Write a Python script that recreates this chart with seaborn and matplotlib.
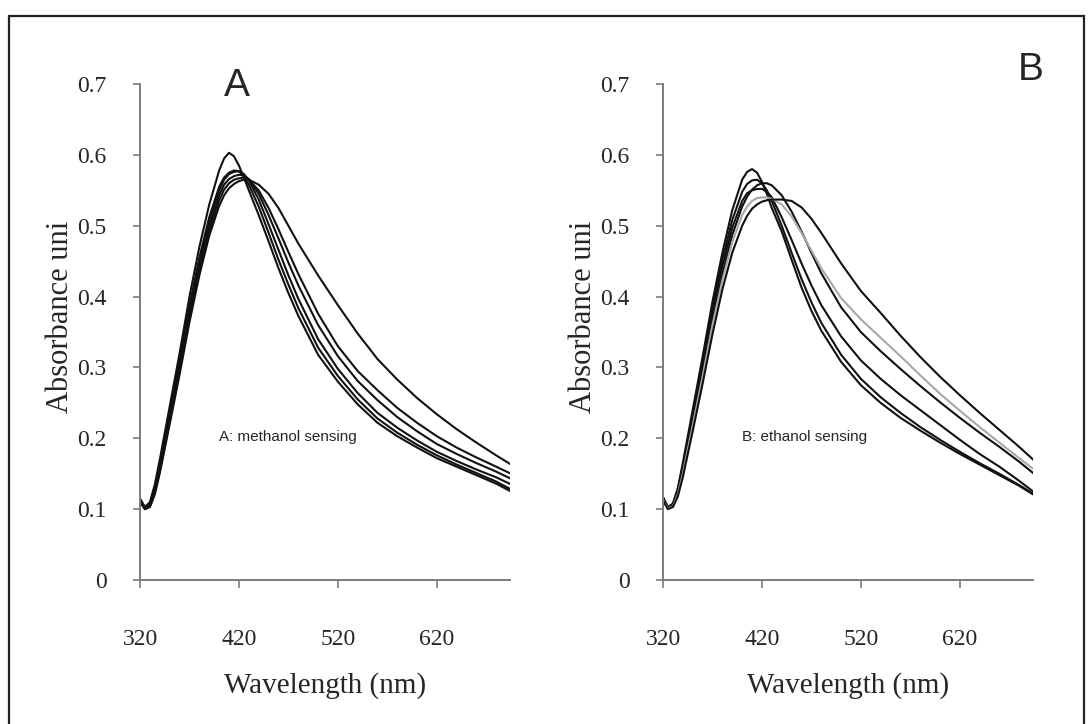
import numpy as np
import pandas as pd
import matplotlib
matplotlib.use("Agg")
import matplotlib.pyplot as plt
from matplotlib.patches import Rectangle
import seaborn as sns

# ---------------- data ----------------
wavelength = [320, 325, 330, 335, 340, 350, 360, 370, 380, 390, 400, 405, 410, 415,
              420, 425, 430, 440, 450, 460, 470, 480, 500, 520, 540, 560, 580, 600,
              620, 640, 660, 680, 695]

methanol_1 = [0.115, 0.103, 0.110, 0.135, 0.170, 0.245, 0.320, 0.400, 0.470, 0.530, 0.578, 0.595, 0.603, 0.598,
              0.585, 0.568, 0.550, 0.515, 0.478, 0.440, 0.405, 0.373, 0.318, 0.280, 0.248, 0.222, 0.203, 0.187,
              0.172, 0.160, 0.148, 0.136, 0.125]
methanol_2 = [0.113, 0.102, 0.108, 0.130, 0.163, 0.236, 0.310, 0.387, 0.455, 0.512, 0.555, 0.568, 0.575, 0.578,
              0.577, 0.570, 0.558, 0.527, 0.490, 0.452, 0.417, 0.384, 0.328, 0.288, 0.255, 0.228, 0.208, 0.191,
              0.176, 0.163, 0.151, 0.139, 0.128]
methanol_3 = [0.112, 0.101, 0.106, 0.127, 0.160, 0.232, 0.305, 0.382, 0.450, 0.508, 0.550, 0.565, 0.573, 0.576,
              0.577, 0.573, 0.564, 0.537, 0.502, 0.466, 0.430, 0.397, 0.340, 0.298, 0.264, 0.236, 0.215, 0.197,
              0.181, 0.168, 0.156, 0.145, 0.135]
methanol_4 = [0.112, 0.101, 0.105, 0.125, 0.157, 0.228, 0.300, 0.376, 0.443, 0.500, 0.543, 0.558, 0.566, 0.570,
              0.572, 0.571, 0.566, 0.545, 0.515, 0.482, 0.448, 0.416, 0.360, 0.316, 0.281, 0.254, 0.230, 0.210,
              0.192, 0.178, 0.165, 0.153, 0.143]
methanol_5 = [0.111, 0.100, 0.104, 0.123, 0.154, 0.224, 0.295, 0.370, 0.437, 0.493, 0.536, 0.551, 0.560, 0.565,
              0.567, 0.568, 0.565, 0.550, 0.525, 0.495, 0.463, 0.432, 0.376, 0.330, 0.295, 0.268, 0.243, 0.222,
              0.203, 0.187, 0.173, 0.160, 0.150]
methanol_6 = [0.110, 0.100, 0.103, 0.121, 0.151, 0.220, 0.290, 0.364, 0.430, 0.486, 0.528, 0.543, 0.553, 0.559,
              0.563, 0.565, 0.565, 0.558, 0.545, 0.525, 0.500, 0.475, 0.430, 0.388, 0.348, 0.312, 0.283, 0.257,
              0.234, 0.213, 0.194, 0.176, 0.163]

ethanol_1 = [0.117, 0.103, 0.108, 0.130, 0.165, 0.240, 0.315, 0.393, 0.462, 0.522, 0.565, 0.576, 0.580, 0.575,
             0.562, 0.545, 0.525, 0.492, 0.452, 0.413, 0.380, 0.352, 0.308, 0.275, 0.250, 0.229, 0.211, 0.194,
             0.178, 0.163, 0.148, 0.133, 0.120]
ethanol_2 = [0.116, 0.102, 0.107, 0.128, 0.161, 0.234, 0.308, 0.385, 0.452, 0.508, 0.548, 0.559, 0.564, 0.565,
             0.560, 0.550, 0.535, 0.500, 0.462, 0.425, 0.392, 0.363, 0.318, 0.284, 0.258, 0.236, 0.216, 0.198,
             0.181, 0.165, 0.150, 0.134, 0.121]
ethanol_3 = [0.115, 0.102, 0.106, 0.126, 0.158, 0.230, 0.302, 0.378, 0.443, 0.497, 0.535, 0.546, 0.550, 0.552,
             0.552, 0.548, 0.540, 0.512, 0.480, 0.447, 0.416, 0.388, 0.344, 0.310, 0.284, 0.261, 0.240, 0.219,
             0.198, 0.178, 0.160, 0.140, 0.124]
ethanol_4 = [0.114, 0.101, 0.105, 0.123, 0.154, 0.224, 0.294, 0.368, 0.432, 0.487, 0.527, 0.541, 0.551, 0.557,
             0.560, 0.560, 0.557, 0.543, 0.520, 0.492, 0.462, 0.433, 0.385, 0.350, 0.323, 0.298, 0.274, 0.251,
             0.229, 0.208, 0.188, 0.167, 0.150]
ethanol_5 = [0.113, 0.101, 0.104, 0.121, 0.150, 0.218, 0.287, 0.360, 0.423, 0.477, 0.515, 0.527, 0.535, 0.539,
             0.540, 0.540, 0.538, 0.530, 0.513, 0.490, 0.465, 0.440, 0.398, 0.368, 0.342, 0.316, 0.289, 0.263,
             0.239, 0.216, 0.194, 0.172, 0.156]
ethanol_6 = [0.112, 0.100, 0.103, 0.118, 0.145, 0.210, 0.277, 0.347, 0.410, 0.462, 0.500, 0.514, 0.524, 0.530,
             0.534, 0.536, 0.537, 0.537, 0.535, 0.526, 0.510, 0.490, 0.447, 0.408, 0.377, 0.345, 0.315, 0.287,
             0.261, 0.236, 0.212, 0.188, 0.169]

x_ticks = [320, 420, 520, 620]
y_ticks = [0, 0.1, 0.2, 0.3, 0.4, 0.5, 0.6, 0.7]
y_tick_labels = ["0", "0.1", "0.2", "0.3", "0.4", "0.5", "0.6", "0.7"]
panel_letters = ["A", "B"]
panel_notes = ["A: methanol sensing", "B: ethanol sensing"]
x_label = "Wavelength (nm)"
y_label = "Absorbance uni"

methanol = {"m1": methanol_1, "m2": methanol_2, "m3": methanol_3,
            "m4": methanol_4, "m5": methanol_5, "m6": methanol_6}
ethanol = {"e1": ethanol_1, "e2": ethanol_2, "e3": ethanol_3,
           "e4": ethanol_4, "e5": ethanol_5, "e6": ethanol_6}


def to_long(series):
    rows = []
    for name, vals in series.items():
        for w, v in zip(wavelength, vals):
            rows.append({"curve": name, "wavelength": w, "absorbance": v})
    return pd.DataFrame(rows)


df_a = to_long(methanol)
df_b = to_long(ethanol)

pal_a = {k: "#111111" for k in methanol}
pal_b = {k: "#111111" for k in ethanol}
pal_b["e5"] = "#a8a8a8"

# ---------------- style ----------------
sns.set_style("white")
plt.rcParams["font.family"] = ["Liberation Serif", "DejaVu Serif"]

fig = plt.figure(figsize=(10.88, 7.24), dpi=100)
fig.patch.set_facecolor("white")

positions = [[0.1287, 0.1989, 0.340, 0.685], [0.6094, 0.1989, 0.340, 0.685]]
frames = [df_a, df_b]
pals = [pal_a, pal_b]
spine_col = "#7c7c7c"

for i in range(2):
    ax = fig.add_axes(positions[i])
    sns.lineplot(data=frames[i], x="wavelength", y="absorbance", hue="curve",
                 palette=pals[i], legend=False, ax=ax, linewidth=1.5,
                 estimator=None, sort=False)
    ax.set_xlim(320, 694)
    ax.set_ylim(0, 0.7)
    ax.set_xticks(x_ticks)
    ax.set_xticklabels([str(t) for t in x_ticks])
    ax.set_yticks(y_ticks)
    ax.set_yticklabels(y_tick_labels)
    for s in ["top", "right"]:
        ax.spines[s].set_visible(False)
    for s in ["left", "bottom"]:
        ax.spines[s].set_color(spine_col)
        ax.spines[s].set_linewidth(1.4)
    ax.tick_params(axis="x", direction="out", length=5.5, width=1.2, color=spine_col,
                   pad=30, labelsize=17, bottom=True)
    ax.tick_params(axis="y", direction="out", length=5, width=1.2, color=spine_col,
                   pad=19, labelsize=17, left=True)
    ax.set_xlabel(x_label, fontsize=21)
    ax.set_ylabel(y_label, fontsize=22)
    ax.xaxis.label.set_va("center")
    ax.yaxis.label.set_va("center")
    ax.xaxis.set_label_coords(0.5, -0.212)
    ax.yaxis.set_label_coords(-0.216, 0.53)
    ax.text(400, 0.202, panel_notes[i], family=["Liberation Sans", "DejaVu Sans"],
            fontsize=11, va="center", ha="left")
    ax.set_facecolor("none")

fig.text(0.218, 0.881, panel_letters[0], family=["Liberation Sans", "DejaVu Sans"],
         fontsize=28, ha="center", va="center")
fig.text(0.947, 0.904, panel_letters[1], family=["Liberation Sans", "DejaVu Sans"],
         fontsize=28, ha="center", va="center")

# outer frame of the figure panel
fig.add_artist(Rectangle((0.0083, -0.05), 0.988, 1.028, transform=fig.transFigure,
                         fill=False, edgecolor="#222222", linewidth=1.6))

fig.savefig("out.png", dpi=100)
